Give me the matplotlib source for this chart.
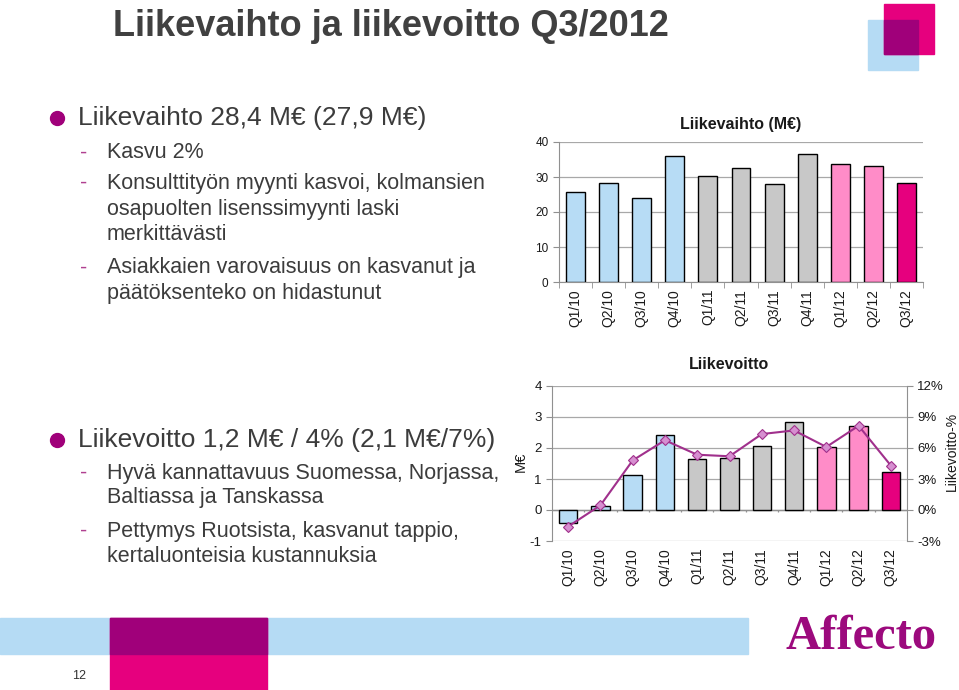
import matplotlib
matplotlib.use("Agg")
import matplotlib.pyplot as plt
from matplotlib.patches import Rectangle
from matplotlib.ticker import FuncFormatter
import numpy as np

plt.rcParams['font.family'] = ['Liberation Sans', 'DejaVu Sans']
plt.rcParams['axes.unicode_minus'] = False

# ---------------- data ----------------
quarters = ["Q1/10", "Q2/10", "Q3/10", "Q4/10", "Q1/11", "Q2/11",
            "Q3/11", "Q4/11", "Q1/12", "Q2/12", "Q3/12"]
liikevaihto = [25.8, 28.4, 23.9, 36.1, 30.2, 32.7, 27.9, 36.7, 33.7, 33.2, 28.4]
liikevoitto = [-0.42, 0.12, 1.14, 2.43, 1.63, 1.69, 2.06, 2.84, 2.04, 2.71, 1.21]
liikevoitto_pct = [-1.6, 0.45, 4.8, 6.75, 5.35, 5.2, 7.35, 7.7, 6.1, 8.15, 4.3]
bar_colors = ["#b7dcf5"] * 4 + ["#c8c8c8"] * 4 + ["#ff8cc8"] * 2 + ["#e6007e"]

title = "Liikevaihto ja liikevoitto Q3/2012"
bullet1 = "Liikevaihto 28,4 M€ (27,9 M€)"
sub1 = [["Kasvu 2%"],
        ["Konsulttityön myynti kasvoi, kolmansien", "osapuolten lisenssimyynti laski", "merkittävästi"],
        ["Asiakkaien varovaisuus on kasvanut ja", "päätöksenteko on hidastunut"]]
bullet2 = "Liikevoitto 1,2 M€ / 4% (2,1 M€/7%)"
sub2 = [["Hyvä kannattavuus Suomessa, Norjassa,", "Baltiassa ja Tanskassa"],
        ["Pettymys Ruotsista, kasvanut tappio,", "kertaluonteisia kustannuksia"]]

W, H = 959, 690
fig = plt.figure(figsize=(W / 100, H / 100), dpi=100)

def rect(l, t, r, b):
    return [l / W, 1 - b / H, (r - l) / W, (b - t) / H]

TXT = "#3c3c3c"
MAG = "#e6007e"
PURP = "#a0007a"
LBLUE = "#b5dbf4"

# ---------------- background decorations ----------------
deco = fig.add_axes([0, 0, 1, 1])
deco.set_xlim(0, W)
deco.set_ylim(H, 0)
deco.axis("off")
# top-right squares
deco.add_patch(Rectangle((868, 20), 50, 50, color=LBLUE, zorder=1))
deco.add_patch(Rectangle((884, 4), 50, 50, color=MAG, zorder=1))
deco.add_patch(Rectangle((884, 20), 34, 34, color=PURP, zorder=2))
# footer band
deco.add_patch(Rectangle((0, 618), 748, 36, color=LBLUE, zorder=1))
deco.add_patch(Rectangle((110, 618), 157, 72, color=MAG, zorder=1))
deco.add_patch(Rectangle((110, 618), 157, 36, color=PURP, zorder=2))
deco.text(79, 676, "12", fontsize=9, color="#333333", ha="center", va="center")
# logo
deco.text(861, 637, "Affecto", fontsize=35, fontweight="bold", color="#9c0a7d",
          family=["Liberation Serif", "DejaVu Serif"], ha="center", va="center")

# title
deco.text(113, 26, title, fontsize=26, fontweight="bold", color="#404040",
          ha="left", va="center")

# bullets
def bullet_block(y0, main, subs, ys):
    deco.plot([57], [y0], marker="o", markersize=10, color=PURP, zorder=3)
    deco.text(78, y0, main, fontsize=19, color=TXT, ha="left", va="center")
    k = 0
    for item in subs:
        for j, line in enumerate(item):
            y = ys[k]
            if j == 0:
                deco.text(80, y, "-", fontsize=15.5, color="#b04090", ha="left", va="center")
            deco.text(107, y, line, fontsize=15.5, color=TXT, ha="left", va="center")
            k += 1

bullet_block(118, bullet1, sub1, [153, 183, 209, 235, 268, 294])
bullet_block(440, bullet2, sub2, [473, 498, 531, 556])

x = np.arange(len(quarters))
GRID = "#a8a8a8"
AX = "#909090"

# ---------------- top chart ----------------
ax1 = fig.add_axes(rect(559, 142, 923, 282))
ax1.bar(x, liikevaihto, width=0.57, color=bar_colors, edgecolor="black",
        linewidth=1.0, zorder=3)
ax1.set_xlim(-0.5, len(quarters) - 0.5)
ax1.set_ylim(0, 40)
ax1.set_yticks([0, 10, 20, 30, 40])
ax1.yaxis.grid(True, color=GRID, linewidth=0.9, zorder=0)
for s in ["top", "right"]:
    ax1.spines[s].set_visible(False)
for s in ["left", "bottom"]:
    ax1.spines[s].set_color(AX)
ax1.set_xticks(x)
ax1.set_xticklabels(quarters, rotation=90, fontsize=10, color="#1a1a1a")
ax1.tick_params(axis="x", length=0, pad=5)
ax1.set_xticks(np.arange(-0.5, len(quarters)), minor=True)
ax1.tick_params(axis="x", which="minor", length=4, color=AX)
ax1.tick_params(axis="y", length=4, color=AX, labelsize=8.5, labelcolor="#1a1a1a")
ax1.set_title("Liikevaihto (M€)", fontsize=11.5, fontweight="bold", pad=9, color="#1a1a1a")

# ---------------- bottom chart ----------------
ax2 = fig.add_axes(rect(552, 386, 907, 541))
ax2.bar(x, liikevoitto, width=0.57, color=bar_colors, edgecolor="black",
        linewidth=1.0, zorder=3)
ax2.set_xlim(-0.5, len(quarters) - 0.5)
ax2.set_ylim(-1, 4)
ax2.set_yticks([-1, 0, 1, 2, 3, 4])
ax2.yaxis.grid(True, color=GRID, linewidth=0.9, zorder=0)
ax2.axhline(0, color=AX, linewidth=1.0, zorder=2)
ax2.vlines(np.arange(0.5, len(quarters) - 0.5), -0.06, 0, color=AX,
           linewidth=0.9, zorder=2)
for s in ["top", "right", "bottom"]:
    ax2.spines[s].set_visible(False)
ax2.spines["left"].set_color(AX)
ax2.set_xticks(x)
ax2.set_xticklabels(quarters, rotation=90, fontsize=10, color="#1a1a1a")
ax2.tick_params(axis="x", length=0, pad=5)
ax2.tick_params(axis="y", length=4, color=AX, labelsize=9.5, labelcolor="#1a1a1a")
ax2.set_ylabel("M€", fontsize=10.5, color="#1a1a1a")
ax2.yaxis.set_label_coords(-0.068, 0.51)
ax2.set_title("Liikevoitto", fontsize=11.5, fontweight="bold", pad=12, color="#1a1a1a")

ax3 = ax2.twinx()
ax3.plot(x, liikevoitto_pct, color="#a0308c", linewidth=1.5, marker="D",
         markersize=5.5, markerfacecolor="#d68fd0", markeredgecolor="#a0308c",
         markeredgewidth=0.8, zorder=5)
ax3.set_ylim(-3, 12)
ax3.set_yticks([-3, 0, 3, 6, 9, 12])
ax3.yaxis.set_major_formatter(FuncFormatter(lambda v, p: f"{v:.0f}%"))
for s in ["top", "left", "bottom"]:
    ax3.spines[s].set_visible(False)
ax3.spines["right"].set_color(AX)
ax3.tick_params(axis="y", length=4, color=AX, labelsize=9.5, labelcolor="#1a1a1a")
ax3.set_ylabel("Liikevoitto-%", fontsize=10, color="#1a1a1a")
ax3.yaxis.set_label_coords(1.108, 0.58)

fig.savefig("out.png", dpi=100)
